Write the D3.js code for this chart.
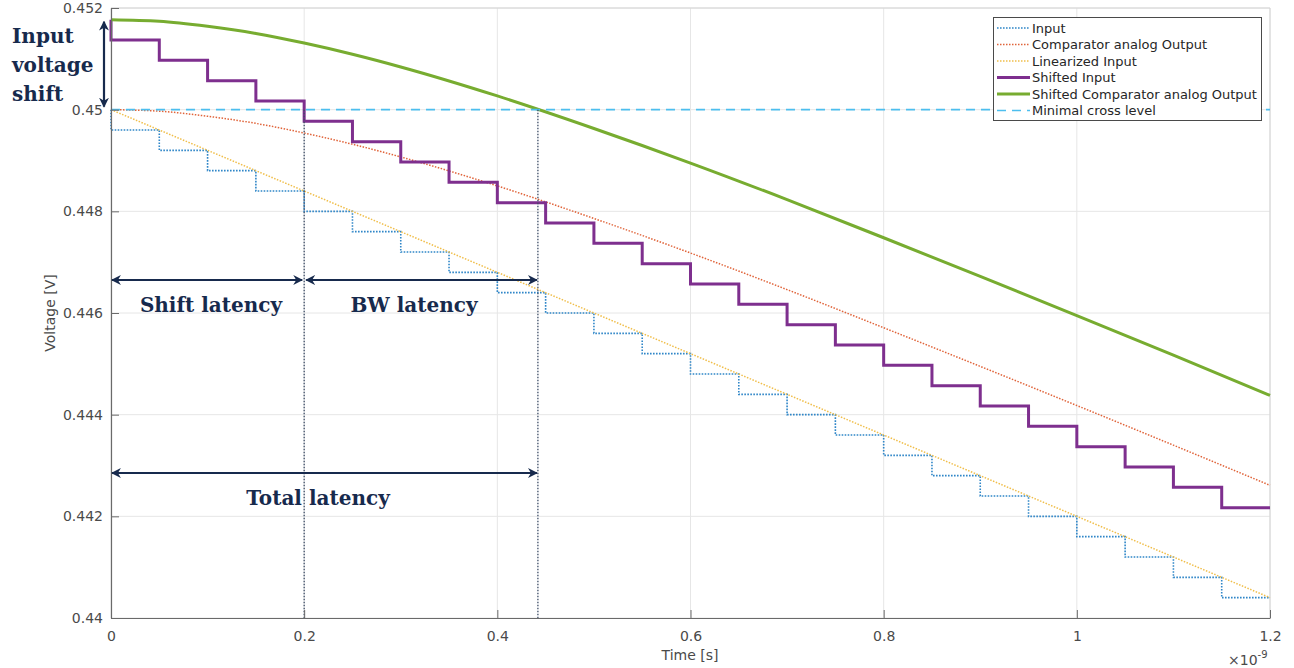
<!DOCTYPE html>
<html><head><meta charset="utf-8">
<script src="https://cdn.jsdelivr.net/npm/d3@7"></script>
<style>body{margin:0;background:#fff}svg{display:block}</style>
</head><body>
<svg id="c" width="1294" height="668"></svg>
<script>
// ---- data (time in ns, voltage in V) ----
const xTicks = [0, 0.2, 0.4, 0.6, 0.8, 1, 1.2];
const xTickLabels = ["0", "0.2", "0.4", "0.6", "0.8", "1", "1.2"];
const yTicks = [0.44, 0.442, 0.444, 0.446, 0.448, 0.45, 0.452];
const yTickLabels = ["0.44", "0.442", "0.444", "0.446", "0.448", "0.45", "0.452"];

const stepTimes = [0, 0.05, 0.1, 0.15, 0.2, 0.25, 0.3, 0.35, 0.4, 0.45, 0.5, 0.55, 0.6, 0.65, 0.7, 0.75, 0.8, 0.85, 0.9, 0.95, 1.0, 1.05, 1.1, 1.15, 1.2];
const inputStart = 0.45;
const inputValues = [0.4496, 0.4492, 0.4488, 0.4484, 0.448, 0.4476, 0.4472, 0.4468, 0.4464, 0.446, 0.4456, 0.4452, 0.4448, 0.4444, 0.444, 0.4436, 0.4432, 0.4428, 0.4424, 0.442, 0.4416, 0.4412, 0.4408, 0.4404];
const shiftedStart = 0.45177;
const shiftedValues = [0.45137, 0.45097, 0.45057, 0.45017, 0.44977, 0.44937, 0.44897, 0.44857, 0.44817, 0.44777, 0.44737, 0.44697, 0.44657, 0.44617, 0.44577, 0.44537, 0.44497, 0.44457, 0.44417, 0.44377, 0.44337, 0.44297, 0.44257, 0.44217];

const curveTimes = [0, 0.05, 0.1, 0.15, 0.2, 0.25, 0.3, 0.4, 0.5, 0.6, 0.7, 0.8, 0.9, 1.0, 1.1, 1.2];
const comparatorOut = [0.45, 0.44997, 0.44987, 0.44973, 0.44954, 0.44932, 0.44907, 0.4485, 0.44786, 0.44718, 0.44646, 0.44571, 0.44495, 0.44418, 0.4434, 0.44261];
const shiftedComparatorOut = [0.45177, 0.45174, 0.45164, 0.4515, 0.45131, 0.45109, 0.45084, 0.45027, 0.44963, 0.44895, 0.44823, 0.44748, 0.44672, 0.44595, 0.44517, 0.44438];

const linTimes = [0, 1.2];
const linValues = [0.45, 0.4404];
const crossLevel = 0.45;
const shiftLatencyEnd = 0.2;
const totalLatencyEnd = 0.442;

const legendLabels = ["Input", "Comparator analog Output", "Linearized Input", "Shifted Input", "Shifted Comparator analog Output", "Minimal cross level"];

// ---- layout ----
const L = 111, R = 1270, T = 8, B = 618;
const x = d3.scaleLinear().domain([0, 1.2]).range([L, R]);
const y = d3.scaleLinear().domain([0.44, 0.452]).range([B, T]);
const svg = d3.select("#c");

const styles = [
  {color: "#2f86c8", width: 1.6, dash: "1.6,1.4"},
  {color: "#e0643a", width: 1.5, dash: "1.5,1.5"},
  {color: "#f0be4a", width: 1.5, dash: "1.5,1.5"},
  {color: "#7E2F8E", width: 3, dash: null},
  {color: "#77AC30", width: 3, dash: null},
  {color: "#4DBEEE", width: 1.6, dash: "9,6"}
];

// grid
svg.append("g").selectAll("line").data(xTicks).join("line")
  .attr("x1", d => x(d)).attr("x2", d => x(d)).attr("y1", T).attr("y2", B)
  .attr("stroke", "#e6e6e6").attr("stroke-width", 1);
svg.append("g").selectAll("line").data(yTicks).join("line")
  .attr("x1", L).attr("x2", R).attr("y1", d => y(d)).attr("y2", d => y(d))
  .attr("stroke", "#e6e6e6").attr("stroke-width", 1);
// box top/right
svg.append("path").attr("d", `M${L},${T}H${R}V${B}`).attr("fill", "none").attr("stroke", "#d4d4d4");

function stepPts(start, vals) {
  const pts = [[0, start]];
  vals.forEach((v, i) => { pts.push([stepTimes[i], v]); pts.push([stepTimes[i + 1], v]); });
  return pts;
}
const lineGen = d3.line().x(d => x(d[0])).y(d => y(d[1]));
const curveGen = d3.line().x(d => x(d[0])).y(d => y(d[1])).curve(d3.curveMonotoneX);

const series = [
  {pts: stepPts(inputStart, inputValues), gen: lineGen},
  {pts: curveTimes.map((t, i) => [t, comparatorOut[i]]), gen: curveGen},
  {pts: linTimes.map((t, i) => [t, linValues[i]]), gen: lineGen},
  {pts: stepPts(shiftedStart, shiftedValues), gen: lineGen},
  {pts: curveTimes.map((t, i) => [t, shiftedComparatorOut[i]]), gen: curveGen},
  {pts: [[0, crossLevel], [1.2, crossLevel]], gen: lineGen}
];
series.forEach((s, i) => {
  const st = styles[i];
  svg.append("path").attr("d", s.gen(s.pts)).attr("fill", "none")
    .attr("stroke", st.color).attr("stroke-width", st.width)
    .attr("stroke-dasharray", st.dash).attr("stroke-linejoin", "miter");
});

// vertical latency markers
[shiftLatencyEnd, totalLatencyEnd].forEach(t => {
  svg.append("line").attr("x1", x(t)).attr("x2", x(t)).attr("y1", y(crossLevel)).attr("y2", B)
    .attr("stroke", "#3d4d66").attr("stroke-width", 1.3).attr("stroke-dasharray", "1.5,1.5");
});

// axes
const xAxis = d3.axisBottom(x).tickValues(xTicks).tickFormat((d, i) => xTickLabels[i]).tickSizeInner(-8).tickSizeOuter(0).tickPadding(13);
const yAxis = d3.axisLeft(y).tickValues(yTicks).tickFormat((d, i) => yTickLabels[i]).tickSizeInner(-8).tickSizeOuter(0).tickPadding(8);
const gx = svg.append("g").attr("transform", `translate(0,${B})`).call(xAxis);
const gy = svg.append("g").attr("transform", `translate(${L},0)`).call(yAxis);
[gx, gy].forEach(g => {
  g.select(".domain").attr("stroke", "#6a6a6a").attr("stroke-width", 1.2);
  g.selectAll(".tick line").attr("stroke", "#6a6a6a");
  g.selectAll(".tick text").attr("fill", "#4a4a4a").attr("font-family", "DejaVu Sans").attr("font-size", 14);
});
svg.append("text").attr("x", 690).attr("y", 660).attr("text-anchor", "middle")
  .attr("font-family", "DejaVu Sans").attr("font-size", 14).attr("fill", "#4a4a4a").text("Time [s]");
svg.append("text").attr("transform", "translate(55,313) rotate(-90)").attr("text-anchor", "middle")
  .attr("font-family", "DejaVu Sans").attr("font-size", 14).attr("fill", "#4a4a4a").text("Voltage [V]");
const exp = svg.append("text").attr("x", 1228).attr("y", 665)
  .attr("font-family", "DejaVu Sans").attr("font-size", 14).attr("fill", "#4a4a4a");
exp.append("tspan").text("×10");
exp.append("tspan").attr("dy", -7).attr("font-size", 10).text("-9");

// legend
const lg = svg.append("g");
lg.append("rect").attr("x", 993.5).attr("y", 17.5).attr("width", 268).attr("height", 103)
  .attr("fill", "#fff").attr("stroke", "#4a4a4a").attr("stroke-width", 1);
legendLabels.forEach((lab, i) => {
  const yy = 28 + i * 16.5;
  const st = styles[i];
  lg.append("line").attr("x1", 997).attr("x2", 1030).attr("y1", yy).attr("y2", yy)
    .attr("stroke", st.color).attr("stroke-width", st.width).attr("stroke-dasharray", st.dash);
  lg.append("text").attr("x", 1032).attr("y", yy + 4.5).attr("font-family", "DejaVu Sans")
    .attr("font-size", 13).attr("fill", "#262626").text(lab);
});

// annotations
const navy = "#172a4d";
const defs = svg.append("defs");
defs.append("marker").attr("id", "ah").attr("viewBox", "0 0 10 10").attr("refX", 9).attr("refY", 5)
  .attr("markerWidth", 4.5).attr("markerHeight", 4.5).attr("orient", "auto-start-reverse")
  .append("path").attr("d", "M0,0L10,5L0,10L3,5Z").attr("fill", navy);
function arrow(x1, y1, x2, y2) {
  svg.append("line").attr("x1", x1).attr("y1", y1).attr("x2", x2).attr("y2", y2)
    .attr("stroke", navy).attr("stroke-width", 2.2)
    .attr("marker-start", "url(#ah)").attr("marker-end", "url(#ah)");
}
arrow(x(0) - 7, y(shiftedStart) + 2, x(0) - 7, y(crossLevel) - 3);
arrow(x(0) + 1, 280, x(shiftLatencyEnd) - 2, 280);
arrow(x(shiftLatencyEnd) + 2, 280, x(totalLatencyEnd) - 1, 280);
arrow(x(0) + 1, 473, x(totalLatencyEnd) - 1, 473);

const ann = {family: "DejaVu Serif", size: 20};
function label(txt, xx, yy, anchor) {
  svg.append("text").attr("x", xx).attr("y", yy).attr("text-anchor", anchor || "middle")
    .attr("font-family", ann.family).attr("font-weight", "bold").attr("font-size", ann.size)
    .attr("fill", navy).text(txt);
}
label("Input", 12, 43, "start");
label("voltage", 12, 72, "start");
label("shift", 12, 101, "start");
label("Shift latency", 211, 312);
label("BW latency", 414, 312);
label("Total latency", 318, 505);
</script>
</body></html>
